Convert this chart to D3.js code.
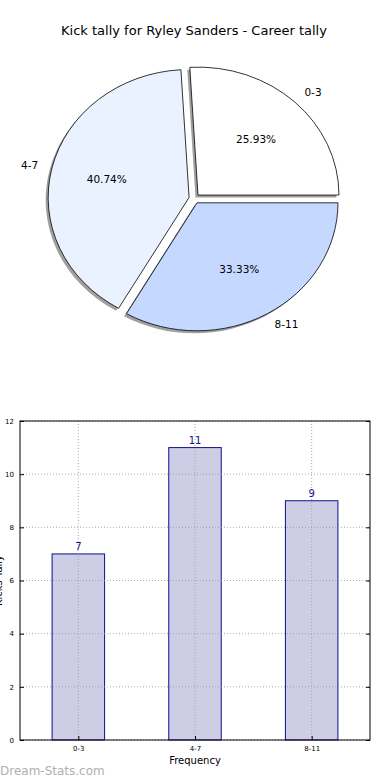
<!DOCTYPE html>
<html><head><meta charset="utf-8">
<script src="https://d3js.org/d3.v7.min.js"></script>
<style>body{margin:0;background:#fff}svg{display:block;font-family:"DejaVu Sans",sans-serif}</style>
</head><body>
<script>
const categories = ["0-3","4-7","8-11"];
const values = [7,11,9];
const pieColors = ["#ffffff","#eaf1ff","#c5d8ff"];
const yTicks = [0,2,4,6,8,10,12];
const title = "Kick tally for Ryley Sanders - Career tally";

const W=390,H=780;
const svg=d3.select("body").append("svg").attr("width",W).attr("height",H);
svg.append("rect").attr("width",W).attr("height",H).attr("fill","#fff");

svg.append("text").attr("x",194).attr("y",35).attr("text-anchor","middle")
  .attr("font-size",13).text(title);

// Pie
const cx=194.3, cy=198.6, rx=141, ry=128, explode=0.038;
const total=d3.sum(values);
const pie=d3.pie().sort(null).startAngle(Math.PI/2).endAngle(Math.PI/2-2*Math.PI);
const arcs=pie(values);
const arc=d3.arc().innerRadius(0).outerRadius(1);
const g=svg.append("g");
function off(d,k){const a=(d.startAngle+d.endAngle)/2;return [Math.sin(a)*k*rx, -Math.cos(a)*k*ry];}
arcs.forEach(d=>{const [dx,dy]=off(d,explode);
  g.append("path").attr("d",arc(d))
   .attr("transform",`translate(${cx+dx-2.5},${cy+dy+2.5}) scale(${rx},${ry})`)
   .attr("fill","#808080").attr("opacity",0.75);
});
arcs.forEach((d,i)=>{const [dx,dy]=off(d,explode);
  g.append("path").attr("d",arc(d))
   .attr("transform",`translate(${cx+dx},${cy+dy}) scale(${rx},${ry})`)
   .attr("fill",pieColors[i]).attr("stroke","#000").attr("stroke-width",0.8)
   .attr("vector-effect","non-scaling-stroke");
});
arcs.forEach((d,i)=>{
  const a=(d.startAngle+d.endAngle)/2, s=Math.sin(a), c=-Math.cos(a);
  const [dx,dy]=off(d,explode);
  g.append("text").attr("x",cx+dx+s*0.6*rx).attr("y",cy+dy+c*0.6*ry)
   .attr("text-anchor","middle").attr("dy","0.35em").attr("font-size",10.5)
   .text((values[i]/total*100).toFixed(2)+"%");
  g.append("text").attr("x",cx+dx+s*1.1*rx).attr("y",cy+dy+c*1.1*ry)
   .attr("text-anchor",s>0?"start":"end").attr("dy","0.35em").attr("font-size",10.5)
   .text(categories[i]);
});

// Bar chart
const L=20,R=370,T=421,B=740;
const x=d3.scaleLinear().domain([-0.5,2.5]).range([L,R]);
const y=d3.scaleLinear().domain([0,12]).range([B,T]);
const bg=svg.append("g");
const bw=0.45;
bg.selectAll(".bar").data(values).join("rect")
  .attr("x",(d,i)=>x(i-bw/2)).attr("width",x(bw)-x(0))
  .attr("y",d=>y(d)).attr("height",d=>B-y(d))
  .attr("fill","#cdcde6").attr("stroke","#10108a").attr("stroke-width",1);
bg.selectAll(".gx").data(categories).join("line")
  .attr("x1",(d,i)=>x(i)).attr("x2",(d,i)=>x(i)).attr("y1",T).attr("y2",B)
  .attr("stroke","#999").attr("stroke-opacity",0.8).attr("stroke-width",1).attr("stroke-dasharray","1,2");
bg.selectAll(".gy").data(yTicks).join("line")
  .attr("x1",L).attr("x2",R).attr("y1",d=>y(d)).attr("y2",d=>y(d))
  .attr("stroke","#999").attr("stroke-opacity",0.8).attr("stroke-width",1).attr("stroke-dasharray","1,2");
bg.selectAll(".vl").data(values).join("text")
  .attr("x",(d,i)=>x(i)).attr("y",d=>y(d)-4).attr("text-anchor","middle")
  .attr("font-size",10).attr("fill","#10108a").text(d=>d);
bg.append("rect").attr("x",L).attr("y",T).attr("width",R-L).attr("height",B-T)
  .attr("fill","none").attr("stroke","#000").attr("stroke-width",1);
const ya=bg.append("g").attr("transform",`translate(${L},0)`)
  .call(d3.axisLeft(y).tickValues(yTicks).tickSize(-4).tickPadding(6));
ya.select(".domain").remove();
ya.selectAll("text").attr("font-size",7).attr("font-family","DejaVu Sans");
const yr=bg.append("g").attr("transform",`translate(${R},0)`)
  .call(d3.axisRight(y).tickValues(yTicks).tickSize(-4).tickFormat(""));
yr.select(".domain").remove();
const xa=bg.append("g").attr("transform",`translate(0,${B})`)
  .call(d3.axisBottom(x).tickValues([0,1,2]).tickFormat(i=>categories[i]).tickSize(-4).tickPadding(6));
xa.select(".domain").remove();
xa.selectAll("text").attr("font-size",7).attr("font-family","DejaVu Sans");
bg.append("text").attr("x",(L+R)/2).attr("y",764).attr("text-anchor","middle")
  .attr("font-size",10).text("Frequency");
bg.append("text").attr("transform",`translate(2,${(T+B)/2}) rotate(-90)`)
  .attr("text-anchor","middle").attr("font-size",10).text("Kicks Tally");
svg.append("text").attr("x",0).attr("y",775).attr("font-size",12)
  .attr("fill","#b0b0b0").text("Dream-Stats.com");
</script>
</body></html>
